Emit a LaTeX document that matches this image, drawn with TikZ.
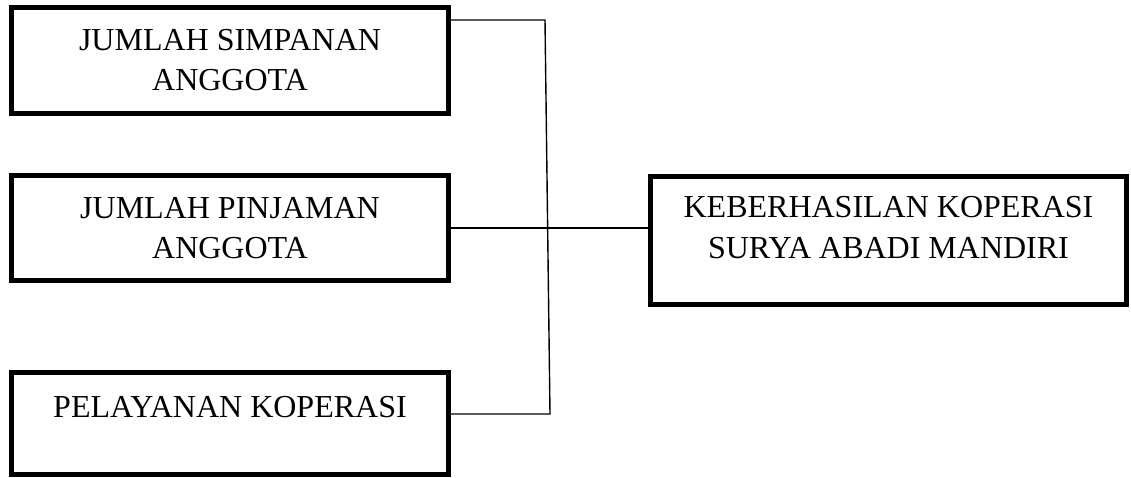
\documentclass[tikz,border=0pt]{standalone}
\usepackage{fontspec}
\setmainfont{Liberation Serif}
\begin{document}
\begin{tikzpicture}[x=1pt,y=-1pt,
  box/.style={draw=black,line width=5pt,rectangle,inner sep=0pt},
  txt/.style={anchor=base,inner sep=0pt,font=\fontsize{32}{40}\selectfont},
  conn/.style={draw=black,line width=1.4pt}]
\useasboundingbox (0,0) rectangle (1131,477);
% boxes
\node[box,minimum width=437pt,minimum height=106pt] (b1) at (230,60.5) {};
\node[box,minimum width=437pt,minimum height=105pt] (b2) at (230,228) {};
\node[box,minimum width=437pt,minimum height=102pt] (b3) at (230,423.5) {};
\node[box,minimum width=476pt,minimum height=127.7pt] (res) at (888.5,240.4) {};
% texts
\node[txt] (t1a) at (230,50) {JUMLAH SIMPANAN};
\node[txt] (t1b) at (230,90) {ANGGOTA};
\node[txt] (t2a) at (230,218) {JUMLAH PINJAMAN};
\node[txt] (t2b) at (230,258) {ANGGOTA};
\node[txt] (t3a) at (230,417) {PELAYANAN KOPERASI};
\node[txt] (tra) at (888.5,217) {KEBERHASILAN KOPERASI};
\node[txt] (trb) at (888.5,258) {SURYA ABADI MANDIRI};
% connectors
\coordinate (top) at (545,20);
\coordinate (bot) at (550,414);
\draw[conn] (b1.east |- top) -- (top) -- (bot) -- (b3.east |- bot);
\draw[conn] (b2.east) -- (b2.east -| res.west);
\end{tikzpicture}
\end{document}
